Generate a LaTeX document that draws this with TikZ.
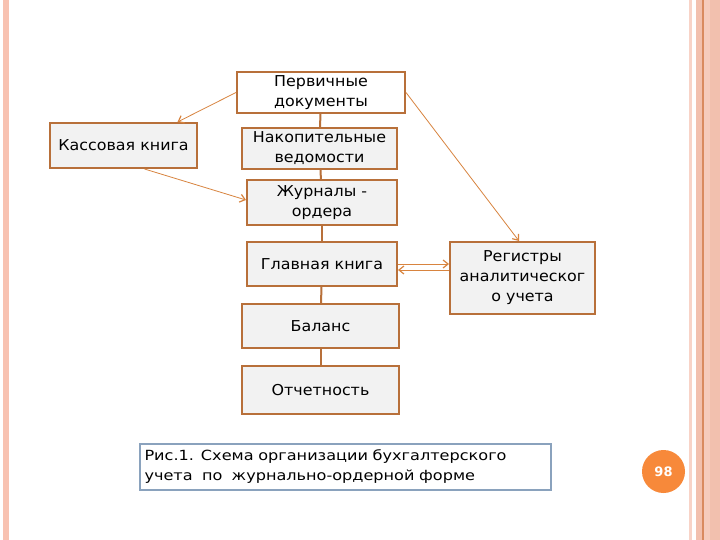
\documentclass[tikz,border=0pt]{standalone}
\usepackage{fontspec}
\setmainfont{DejaVu Sans}
\newfontfamily\boxfont[FakeStretch=1.06]{DejaVu Sans}
\newfontfamily\capfont[FakeStretch=1.15]{DejaVu Sans}
\usetikzlibrary{arrows.meta,calc}
\definecolor{boxline}{HTML}{B8703A}
\definecolor{connline}{HTML}{D8843F}
\definecolor{boxfill}{HTML}{F2F2F2}
\definecolor{capline}{HTML}{8AA2BD}
\definecolor{stripe}{HTML}{F8C2B1}
\definecolor{stripepale}{HTML}{F8D3C7}
\definecolor{band}{HTML}{F2C0AE}
\definecolor{bandline}{HTML}{D98A60}
\definecolor{badge}{HTML}{F7893A}
\tikzset{
  box/.style={draw=boxline, line width=2pt, fill=boxfill, align=center,
    inner sep=0pt, font=\boxfont\fontsize{15}{20}\selectfont},
  vlink/.style={draw=boxline, line width=2pt},
  conn/.style={draw=connline, line width=0.8pt,
    -{Straight Barb[length=5pt,width=8pt,line width=1.2pt]}},
}
\begin{document}
\begin{tikzpicture}[x=1pt,y=-1pt]
\useasboundingbox (0,0) rectangle (720,540);
\fill[white] (0,0) rectangle (720,540);
% decorative stripes
\fill[stripe] (3,0) rectangle (9,540);
\fill[stripepale] (689,0) rectangle (692,540);
\fill[band] (696,0) rectangle (720,540);
\fill[bandline] (702,0) rectangle (703.5,540);
\fill[stripepale!60!band] (703.5,0) rectangle (710,540);
% boxes
\node[box, fill=white, minimum width=168pt, minimum height=41pt] (p1) at (321,92.5) {Первичные\\документы};
\node[box, minimum width=155pt, minimum height=41pt] (p2) at (319.5,148.5) {Накопительные\\ведомости};
\node[box, minimum width=150pt, minimum height=45pt] (p3) at (322,202.5) {Журналы -\\ордера};
\node[box, minimum width=150pt, minimum height=44pt] (p4) at (322,264) {Главная книга};
\node[box, minimum width=157pt, minimum height=44pt] (p5) at (320.5,326) {Баланс};
\node[box, minimum width=157pt, minimum height=48pt] (p6) at (320.5,390) {Отчетность};
\node[box, minimum width=147pt, minimum height=45pt] (kb) at (123.5,145.5) {Кассовая книга};
\node[box, minimum width=145pt, minimum height=72pt] (rg) at (522.5,278) {Регистры\\аналитическог\\о учета};
\node[draw=capline, line width=1.5pt, fill=white, minimum width=411pt, minimum height=46pt,
  text width=402pt, align=left, inner sep=0pt, font=\capfont\fontsize{14}{20}\selectfont] (cap) at (345.5,467)
  {Рис.1. Схема организации бухгалтерского\\учета\ \ по\ \ журнально-ордерной форме};
\node[circle, fill=badge, minimum size=43pt, inner sep=0pt, text=white,
  font=\fontsize{13}{15}\selectfont\bfseries] (num) at (663.5,471.5) {98};
% vertical links
\draw[vlink] (p1) -- (p2);
\draw[vlink] (p2) -- (p3);
\draw[vlink] (p3) -- (p4);
\draw[vlink] (p4) -- (p5);
\draw[vlink] (p5) -- (p6);
% side connectors
\draw[conn] (p1.west) -- ([xshift=54pt]kb.north);
\draw[conn] ([xshift=21pt]kb.south) -- ([yshift=2.5pt]p3.west);
\draw[conn] (p1.east) -- ([xshift=-3.5pt]rg.north);
\draw[conn] (p4.east) -- (p4.east -| rg.west);
\draw[conn] ([yshift=-6pt]p4.east -| rg.west) -- ([yshift=-6pt]p4.east);
\end{tikzpicture}
\end{document}
